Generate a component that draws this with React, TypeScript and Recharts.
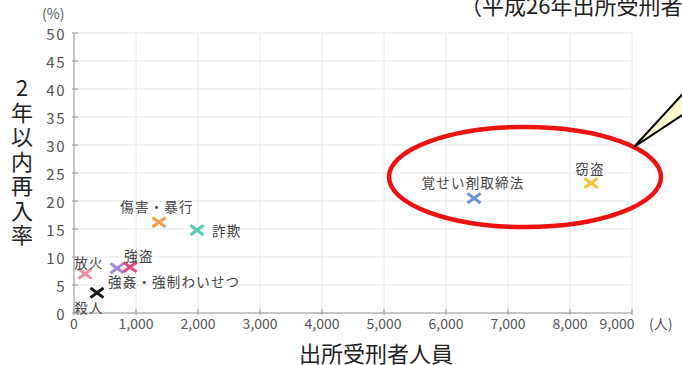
import { ScatterChart, Scatter, XAxis, YAxis, CartesianGrid } from 'recharts';

// 罪名別 出所受刑者人員と2年以内再入率（平成26年出所受刑者）
const crimes = ['放火', '殺人', '強姦・強制わいせつ', '強盗', '傷害・暴行', '詐欺', '覚せい剤取締法', '窃盗'];
const releasedCounts = [177, 371, 694, 903, 1371, 1984, 6452, 8339];
const reentryRates = [7.0, 3.6, 8.0, 8.2, 16.2, 14.8, 20.5, 23.2];
const markerColors = ['#ee8da0', '#1a1a1a', '#a58ad0', '#e8457a', '#f0a050', '#5dcab8', '#6f93d3', '#f6c232'];

const xTicks = [0, 1000, 2000, 3000, 4000, 5000, 6000, 7000, 8000, 9000];
const yTicks = [0, 5, 10, 15, 20, 25, 30, 35, 40, 45, 50];

// ラベル位置（点からのずれ）
const labelPos: Record<string, { dx: number; dy: number; anchor: string }> = {
  '放火': { dx: 4, dy: -12, anchor: 'middle' },
  '殺人': { dx: -8, dy: 14, anchor: 'middle' },
  '強姦・強制わいせつ': { dx: -9, dy: 13, anchor: 'start' },
  '強盗': { dx: 9, dy: -12, anchor: 'middle' },
  '傷害・暴行': { dx: -2, dy: -16, anchor: 'middle' },
  '詐欺': { dx: 15, dy: 0, anchor: 'start' },
  '覚せい剤取締法': { dx: -1, dy: -16, anchor: 'middle' },
  '窃盗': { dx: -1, dy: -15, anchor: 'middle' },
};

const FONT = '"Noto Sans CJK JP", "Noto Sans", sans-serif';

const Marker = (props: any) => {
  const { cx, cy, fill, payload } = props;
  const p = labelPos[payload.name];
  const w = 6.5;
  const h = 4.8;
  return (
    <g>
      <path
        d={`M${cx - w},${cy - h}L${cx + w},${cy + h}M${cx - w},${cy + h}L${cx + w},${cy - h}`}
        stroke={fill}
        strokeWidth={3}
        fill="none"
      />
      <text
        x={cx + p.dx}
        y={cy + p.dy}
        textAnchor={p.anchor}
        dominantBaseline="central"
        fontSize={13.5}
        letterSpacing={1.2}
        fill="#444"
        fontFamily={FONT}
      >
        {payload.name}
      </text>
    </g>
  );
};

const XTick = (props: any) => {
  const { x, y, payload } = props;
  const label = payload.value.toLocaleString('en-US');
  const last = payload.value === 9000;
  return (
    <g>
      <line x1={x} y1={y} x2={x} y2={y - 6} stroke="#999" />
      <text x={last ? x - 15 : x} y={y + 14} textAnchor="middle" fontSize={14} fill="#555" fontFamily={FONT}>
        {label}
      </text>
      {last && (
        <text x={x + 17} y={y + 14} textAnchor="start" fontSize={14} fill="#555" fontFamily={FONT}>
          (人)
        </text>
      )}
    </g>
  );
};

const YTick = (props: any) => {
  const { x, y, payload } = props;
  return (
    <g>
      <line x1={x} y1={y} x2={x + 6} y2={y} stroke="#999" />
      <text
        x={x - 6}
        y={y}
        textAnchor="end"
        dominantBaseline="central"
        fontSize={15}
        letterSpacing={1.5}
        fill="#555"
        fontFamily={FONT}
      >
        {payload.value}
      </text>
    </g>
  );
};

const yLabelChars = '2年以内再入率'.split('');

export default function App() {
  const series = crimes.map((name, i) => ({
    name,
    color: markerColors[i],
    data: [{ x: releasedCounts[i], y: reentryRates[i], name }],
  }));

  return (
    <div style={{ position: 'absolute', left: 0, top: 0, width: 682, height: 365, background: '#fff', overflow: 'hidden' }}>
      <ScatterChart width={682} height={365} margin={{ top: 33, right: 50, bottom: 0, left: 0 }}>
        <CartesianGrid stroke="#e6e6e6" vertical horizontal />
        <XAxis
          type="number"
          dataKey="x"
          domain={[0, 9000]}
          ticks={xTicks}
          height={52}
          tick={<XTick />}
          tickLine={false}
          tickSize={0}
          axisLine={{ stroke: '#999' }}
          interval={0}
        />
        <YAxis
          type="number"
          dataKey="y"
          domain={[0, 50]}
          ticks={yTicks}
          width={74}
          tick={<YTick />}
          tickLine={false}
          tickSize={0}
          axisLine={{ stroke: '#999' }}
          interval={0}
        />
        {series.map((s) => (
          <Scatter key={s.name} data={s.data} fill={s.color} shape={<Marker />} isAnimationActive={false} />
        ))}
      </ScatterChart>
      <svg width={682} height={365} style={{ position: 'absolute', left: 0, top: 0, pointerEvents: 'none' }}>
        <text x={460} y={14} fontSize={22} fill="#222" fontFamily={FONT}>
          （平成26年出所受刑者）
        </text>
        <text x={42} y={19} fontSize={14} fill="#555" fontFamily={FONT}>
          (%)
        </text>
        {yLabelChars.map((c, i) => (
          <text
            key={i}
            x={22}
            y={86 + i * 24.5}
            textAnchor="middle"
            dominantBaseline="central"
            fontSize={22}
            fill="#222"
            fontFamily={FONT}
          >
            {c}
          </text>
        ))}
        <text x={376} y={352} textAnchor="middle" dominantBaseline="central" fontSize={22} fill="#222" fontFamily={FONT}>
          出所受刑者人員
        </text>
        <ellipse cx={525} cy={177} rx={136} ry={50} fill="none" stroke="#ee1111" strokeWidth={4.5} />
        <polygon points="634,147 690,86 690,110" fill="#fdfbd0" stroke="#000" strokeWidth={2} strokeLinejoin="miter" />
      </svg>
    </div>
  );
}
